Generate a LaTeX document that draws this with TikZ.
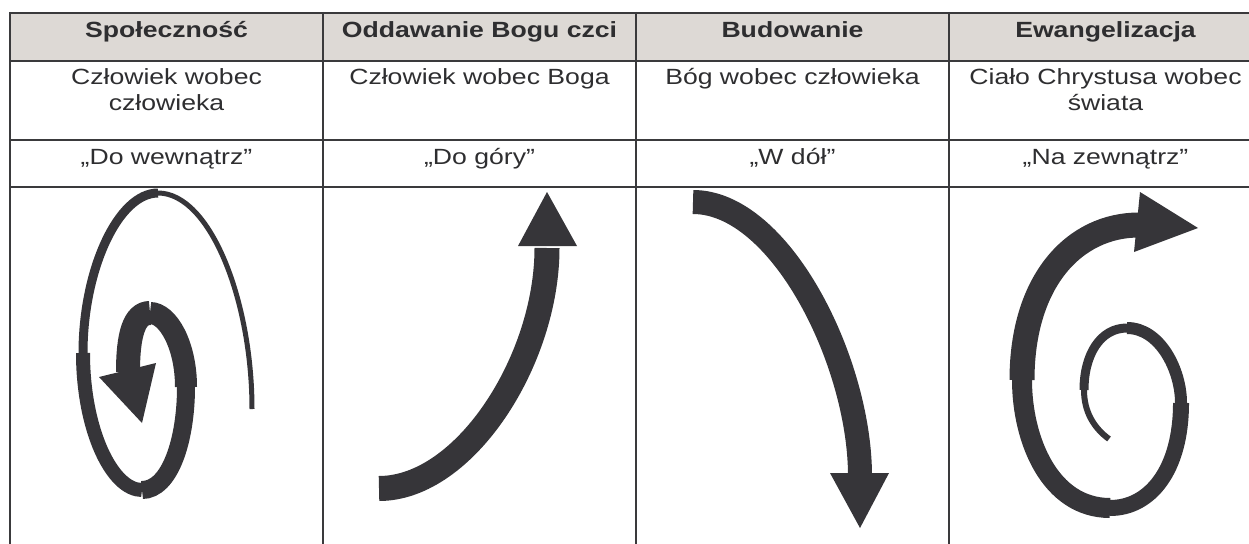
\documentclass[tikz,border=0pt]{standalone}
\usepackage{fontspec}
\setmainfont[FakeStretch=1.21]{Liberation Sans}
\definecolor{ink}{HTML}{363539}
\definecolor{gridc}{HTML}{3A3A3C}
\definecolor{headc}{HTML}{DDD9D5}
\definecolor{txt}{HTML}{2E2E30}
\begin{document}
\begin{tikzpicture}[x=1pt,y=-1pt,
  gridline/.style={draw=gridc,line width=2pt},
  headtext/.style={font=\fontsize{22}{26}\selectfont\bfseries,text=txt,anchor=base,inner sep=0pt},
  celltext/.style={font=\fontsize{22}{26}\selectfont,text=txt,anchor=base,inner sep=0pt,align=center},
  seg/.style={draw=ink,line width=#1},
  tiphead/.style={fill=ink}]
\useasboundingbox (0,0) rectangle (1249,543);
\fill[headc] (10,13) rectangle (1249,61);
% grid
\foreach \yy in {13,61,140,187} \draw[gridline] (9,\yy) -- (1250,\yy);
\foreach \xx in {10,323,636,949} \draw[gridline] (\xx,12) -- (\xx,544);
% headers
\node[headtext] (h1) at (166.5,37.5) {Społeczność};
\node[headtext] (h2) at (479.5,37.5) {Oddawanie Bogu czci};
\node[headtext] (h3) at (792.5,37.5) {Budowanie};
\node[headtext] (h4) at (1105.5,37.5) {Ewangelizacja};
% row 2 (base anchor = last line)
\node[celltext] (a1) at (166.5,110) {Człowiek wobec\\człowieka};
\node[celltext] (a2) at (479.5,84) {Człowiek wobec Boga};
\node[celltext] (a3) at (792.5,84) {Bóg wobec człowieka};
\node[celltext] (a4) at (1105.5,110) {Ciało Chrystusa wobec\\świata};
% row 3
\node[celltext] (b1) at (166.5,164) {„Do wewnątrz”};
\node[celltext] (b2) at (479.5,164) {„Do góry”};
\node[celltext] (b3) at (792.5,164) {„W dół”};
\node[celltext] (b4) at (1105.5,164) {„Na zewnątrz”};
% spiral inward
\draw[seg=5pt] (252,409) .. controls (252,300) and (210,193) .. (158,193);
\draw[seg=9pt] (158,193) .. controls (118,193) and (83,270) .. (83,353);
\draw[seg=14pt] (83,353) .. controls (83,430) and (112,490) .. (142,490);
\draw[seg=18pt] (142,490) .. controls (170,490) and (186,440) .. (186,387);
\draw[seg=22pt] (186,387) .. controls (186,345) and (168,313) .. (150,313);
\draw[seg=24pt] (150,313) .. controls (134,313) and (128,335) .. (128,372);
\fill[tiphead] (99,377) -- (156,363) -- (142,423) -- cycle;
% up
\draw[seg=25pt] (379,488.5) .. controls (465,488.5) and (547,360) .. (547,248);
\fill[tiphead] (518,246) -- (577,246) -- (547,192) -- cycle;
% down
\draw[seg=24pt] (693,202) .. controls (780,202) and (859,360) .. (860,474);
\fill[tiphead] (830,473) -- (889,473) -- (860,528) -- cycle;
% spiral outward
\draw[seg=6pt] (1109,439) .. controls (1094,428) and (1084,412) .. (1084,390);
\draw[seg=9pt] (1084,390) .. controls (1084,355) and (1100,328) .. (1127,328);
\draw[seg=12pt] (1127,328) .. controls (1160,328) and (1181,370) .. (1181,403);
\draw[seg=16pt] (1181,403) .. controls (1181,470) and (1150,508) .. (1110,508);
\draw[seg=20pt] (1110,508) .. controls (1050,508) and (1022,440) .. (1022,380);
\draw[seg=25pt] (1022,380) .. controls (1022,280) and (1075,225) .. (1139,225);
\fill[tiphead] (1140,192) -- (1198,228) -- (1134,252) -- cycle;
\end{tikzpicture}
\end{document}
